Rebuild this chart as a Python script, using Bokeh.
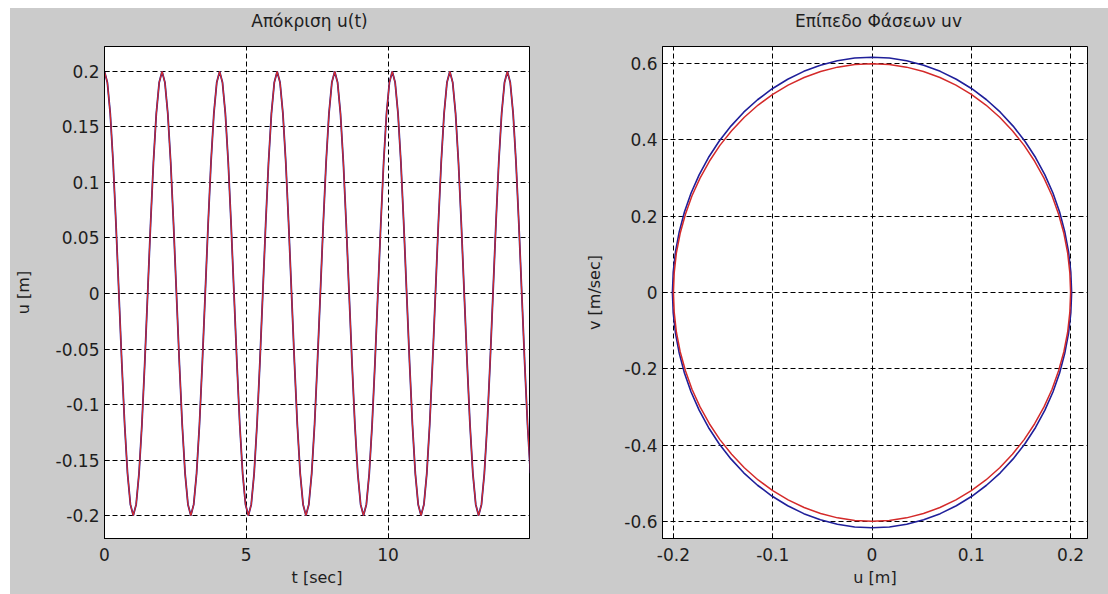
from bokeh.plotting import figure
from bokeh.layouts import row, column
from bokeh.models import FixedTicker, Range1d, CustomJSTickFormatter, Spacer
from bokeh.core.properties import value
from bokeh.embed import file_html
from bokeh.resources import INLINE

# ---------------- data ----------------
t_vals = [
    0.0, 0.1015, 0.203, 0.3045, 0.406, 0.5075, 0.609, 0.7105, 0.812, 0.9135,
    1.015, 1.1165, 1.218, 1.3195, 1.421, 1.5225, 1.624, 1.7255, 1.827, 1.9285,
    2.03, 2.1315, 2.233, 2.3345, 2.436, 2.5375, 2.639, 2.7405, 2.842, 2.9435,
    3.045, 3.1465, 3.248, 3.3495, 3.451, 3.5525, 3.654, 3.7555, 3.857, 3.9585,
    4.06, 4.1615, 4.263, 4.3645, 4.466, 4.5675, 4.669, 4.7705, 4.872, 4.9735,
    5.075, 5.1765, 5.278, 5.3795, 5.481, 5.5825, 5.684, 5.7855, 5.887, 5.9885,
    6.09, 6.1915, 6.293, 6.3945, 6.496, 6.5975, 6.699, 6.8005, 6.902, 7.0035,
    7.105, 7.2065, 7.308, 7.4095, 7.511, 7.6125, 7.714, 7.8155, 7.917, 8.0185,
    8.12, 8.2215, 8.323, 8.4245, 8.526, 8.6275, 8.729, 8.8305, 8.932, 9.0335,
    9.135, 9.2365, 9.338, 9.4395, 9.541, 9.6425, 9.744, 9.8455, 9.947, 10.0485,
    10.15, 10.2515, 10.353, 10.4545, 10.556, 10.6575, 10.759, 10.8605, 10.962, 11.0635,
    11.165, 11.2665, 11.368, 11.4695, 11.571, 11.6725, 11.774, 11.8755, 11.977, 12.0785,
    12.18, 12.2815, 12.383, 12.4845, 12.586, 12.6875, 12.789, 12.8905, 12.992, 13.0935,
    13.195, 13.2965, 13.398, 13.4995, 13.601, 13.7025, 13.804, 13.9055, 14.007, 14.1085,
    14.21, 14.3115, 14.413, 14.5145, 14.616, 14.7175, 14.819, 14.9205, 15.022,
]
u_blue = [
    0.2, 0.19, 0.162, 0.118, 0.062, 0.0, -0.062, -0.118, -0.162, -0.19,
    -0.2, -0.19, -0.162, -0.118, -0.062, 0.0, 0.062, 0.118, 0.162, 0.19,
    0.2, 0.19, 0.162, 0.118, 0.062, 0.0, -0.062, -0.118, -0.162, -0.19,
    -0.2, -0.19, -0.162, -0.118, -0.062, 0.0, 0.062, 0.118, 0.162, 0.19,
    0.2, 0.19, 0.162, 0.118, 0.062, 0.0, -0.062, -0.118, -0.162, -0.19,
    -0.2, -0.19, -0.162, -0.118, -0.062, 0.0, 0.062, 0.118, 0.162, 0.19,
    0.2, 0.19, 0.162, 0.118, 0.062, 0.0, -0.062, -0.118, -0.162, -0.19,
    -0.2, -0.19, -0.162, -0.118, -0.062, 0.0, 0.062, 0.118, 0.162, 0.19,
    0.2, 0.19, 0.162, 0.118, 0.062, 0.0, -0.062, -0.118, -0.162, -0.19,
    -0.2, -0.19, -0.162, -0.118, -0.062, 0.0, 0.062, 0.118, 0.162, 0.19,
    0.2, 0.19, 0.162, 0.118, 0.062, 0.0, -0.062, -0.118, -0.162, -0.19,
    -0.2, -0.19, -0.162, -0.118, -0.062, 0.0, 0.062, 0.118, 0.162, 0.19,
    0.2, 0.19, 0.162, 0.118, 0.062, 0.0, -0.062, -0.118, -0.162, -0.19,
    -0.2, -0.19, -0.162, -0.118, -0.062, 0.0, 0.062, 0.118, 0.162, 0.19,
    0.2, 0.19, 0.162, 0.118, 0.062, 0.0, -0.062, -0.118, -0.162,
]
u_red = [
    0.2, 0.19, 0.162, 0.118, 0.062, 0.0, -0.062, -0.118, -0.162, -0.19,
    -0.2, -0.19, -0.162, -0.118, -0.062, 0.0, 0.062, 0.118, 0.162, 0.19,
    0.2, 0.19, 0.162, 0.118, 0.062, 0.0, -0.062, -0.118, -0.162, -0.19,
    -0.2, -0.19, -0.162, -0.118, -0.062, 0.0, 0.062, 0.118, 0.162, 0.19,
    0.2, 0.19, 0.162, 0.118, 0.062, 0.0, -0.062, -0.118, -0.162, -0.19,
    -0.2, -0.19, -0.162, -0.118, -0.062, 0.0, 0.062, 0.118, 0.162, 0.19,
    0.2, 0.19, 0.162, 0.118, 0.062, 0.0, -0.062, -0.118, -0.162, -0.19,
    -0.2, -0.19, -0.162, -0.118, -0.062, 0.0, 0.062, 0.118, 0.162, 0.19,
    0.2, 0.19, 0.162, 0.118, 0.062, 0.0, -0.062, -0.118, -0.162, -0.19,
    -0.2, -0.19, -0.162, -0.118, -0.062, 0.0, 0.062, 0.118, 0.162, 0.19,
    0.2, 0.19, 0.162, 0.118, 0.062, 0.0, -0.062, -0.118, -0.162, -0.19,
    -0.2, -0.19, -0.162, -0.118, -0.062, 0.0, 0.062, 0.118, 0.162, 0.19,
    0.2, 0.19, 0.162, 0.118, 0.062, 0.0, -0.062, -0.118, -0.162, -0.19,
    -0.2, -0.19, -0.162, -0.118, -0.062, 0.0, 0.062, 0.118, 0.162, 0.19,
    0.2, 0.19, 0.162, 0.118, 0.062, 0.0, -0.062, -0.118, -0.162,
]

# phase plane (u, v), one loop each
pu_red = [
    0.2, 0.1992, 0.197, 0.1932, 0.1879, 0.1813, 0.1732, 0.1638, 0.1532, 0.1414,
    0.1286, 0.1147, 0.1, 0.0845, 0.0684, 0.0518, 0.0347, 0.0174, 0.0,
    -0.0174, -0.0347, -0.0518, -0.0684, -0.0845, -0.1, -0.1147, -0.1286, -0.1414,
    -0.1532, -0.1638, -0.1732, -0.1813, -0.1879, -0.1932, -0.197, -0.1992, -0.2,
    -0.1992, -0.197, -0.1932, -0.1879, -0.1813, -0.1732, -0.1638, -0.1532, -0.1414,
    -0.1286, -0.1147, -0.1, -0.0845, -0.0684, -0.0518, -0.0347, -0.0174, 0.0,
    0.0174, 0.0347, 0.0518, 0.0684, 0.0845, 0.1, 0.1147, 0.1286, 0.1414,
    0.1532, 0.1638, 0.1732, 0.1813, 0.1879, 0.1932, 0.197, 0.1992, 0.2,
]
pv_red = [
    0.0, 0.0523, 0.1042, 0.1553, 0.2052, 0.2536, 0.3, 0.3441, 0.3857, 0.4243,
    0.4596, 0.4915, 0.5196, 0.5438, 0.5638, 0.5796, 0.5909, 0.5977, 0.6,
    0.5977, 0.5909, 0.5796, 0.5638, 0.5438, 0.5196, 0.4915, 0.4596, 0.4243,
    0.3857, 0.3441, 0.3, 0.2536, 0.2052, 0.1553, 0.1042, 0.0523, 0.0,
    -0.0523, -0.1042, -0.1553, -0.2052, -0.2536, -0.3, -0.3441, -0.3857, -0.4243,
    -0.4596, -0.4915, -0.5196, -0.5438, -0.5638, -0.5796, -0.5909, -0.5977, -0.6,
    -0.5977, -0.5909, -0.5796, -0.5638, -0.5438, -0.5196, -0.4915, -0.4596, -0.4243,
    -0.3857, -0.3441, -0.3, -0.2536, -0.2052, -0.1553, -0.1042, -0.0523, 0.0,
]
pu_blue = [
    0.201, 0.2002, 0.1979, 0.1941, 0.1889, 0.1822, 0.1741, 0.1647, 0.154, 0.1421,
    0.1292, 0.1153, 0.1005, 0.0849, 0.0687, 0.052, 0.0349, 0.0175, 0.0,
    -0.0175, -0.0349, -0.052, -0.0687, -0.0849, -0.1005, -0.1153, -0.1292, -0.1421,
    -0.154, -0.1647, -0.1741, -0.1822, -0.1889, -0.1941, -0.1979, -0.2002, -0.201,
    -0.2002, -0.1979, -0.1941, -0.1889, -0.1822, -0.1741, -0.1647, -0.154, -0.1421,
    -0.1292, -0.1153, -0.1005, -0.0849, -0.0687, -0.052, -0.0349, -0.0175, 0.0,
    0.0175, 0.0349, 0.052, 0.0687, 0.0849, 0.1005, 0.1153, 0.1292, 0.1421,
    0.154, 0.1647, 0.1741, 0.1822, 0.1889, 0.1941, 0.1979, 0.2002, 0.201,
]
pv_blue = [
    0.0, 0.0538, 0.1071, 0.1597, 0.211, 0.2608, 0.3085, 0.3539, 0.3966, 0.4363,
    0.4727, 0.5054, 0.5343, 0.5592, 0.5798, 0.596, 0.6076, 0.6147, 0.617,
    0.6147, 0.6076, 0.596, 0.5798, 0.5592, 0.5343, 0.5054, 0.4727, 0.4363,
    0.3966, 0.3539, 0.3085, 0.2608, 0.211, 0.1597, 0.1071, 0.0538, 0.0,
    -0.0538, -0.1071, -0.1597, -0.211, -0.2608, -0.3085, -0.3539, -0.3966, -0.4363,
    -0.4727, -0.5054, -0.5343, -0.5592, -0.5798, -0.596, -0.6076, -0.6147, -0.617,
    -0.6147, -0.6076, -0.596, -0.5798, -0.5592, -0.5343, -0.5054, -0.4727, -0.4363,
    -0.3966, -0.3539, -0.3085, -0.2608, -0.211, -0.1597, -0.1071, -0.0538, 0.0,
]

left_xticks = [0, 5, 10, 15]
left_yticks = [-0.2, -0.15, -0.1, -0.05, 0, 0.05, 0.1, 0.15, 0.2]
right_xticks = [-0.2, -0.1, 0, 0.1, 0.2]
right_yticks = [-0.6, -0.4, -0.2, 0, 0.2, 0.4, 0.6]

titles = ["Απόκριση u(t)", "Επίπεδο Φάσεων uv"]

# ---------------- styling / layout ----------------
BG = "#cbcbcb"
FONT = "DejaVu Sans"
TXT = "#1e1e1e"
BLUE = "#1f1f9a"
RED = "#d42a2a"
W_TOTAL = 1098
TOP_GAP = 8
TITLE_H = 38
H = 548


def style(p, xticks, yticks, xlabel, ylabel, ylabel_standoff):
    p.outline_line_color = "black"
    p.outline_line_width = 1
    p.outline_line_alpha = 1
    p.xaxis.ticker = FixedTicker(ticks=xticks)
    p.yaxis.ticker = FixedTicker(ticks=yticks)
    p.xaxis.formatter = CustomJSTickFormatter(code="return String(tick);")
    p.yaxis.formatter = CustomJSTickFormatter(code="return String(tick);")
    for ax in p.axis:
        ax.major_tick_in = 5
        ax.major_tick_out = 0
        ax.minor_tick_line_color = None
        ax.axis_line_color = "black"
        ax.major_tick_line_color = "black"
        ax.major_label_text_font = FONT
        ax.major_label_text_font_size = "17px"
        ax.major_label_text_color = TXT
        ax.axis_label_text_font = FONT
        ax.axis_label_text_font_size = "16px"
        ax.axis_label_text_font_style = "normal"
        ax.axis_label_text_color = TXT
    p.xaxis.axis_label = xlabel
    p.yaxis.axis_label = ylabel
    p.xaxis.major_label_standoff = 9
    p.xaxis.axis_label_standoff = 4
    p.yaxis.major_label_standoff = 5
    p.yaxis.axis_label_standoff = ylabel_standoff
    p.grid.grid_line_color = "black"
    p.grid.grid_line_dash = "5 3"
    p.grid.grid_line_width = 1
    p.grid.grid_line_alpha = 1


# title strip (pixel coordinates of the strip)
pt = figure(width=W_TOTAL, height=TITLE_H, title=None,
            x_range=Range1d(0, W_TOTAL), y_range=Range1d(0, TITLE_H),
            x_axis_type=None, y_axis_type=None,
            output_backend="svg", toolbar_location=None,
            min_border=0, min_border_left=0, min_border_right=0,
            min_border_top=0, min_border_bottom=0,
            background_fill_color=BG, border_fill_color=BG)
pt.outline_line_color = None
pt.grid.visible = False
pt.text(x=[299, 868], y=[25.5, 25.5], text=titles,
        text_align="center", text_baseline="middle",
        text_font=value(FONT), text_font_size="17px", text_color=TXT)

p1 = figure(width=550, height=H, title=None,
            x_range=Range1d(0, 14.99), y_range=Range1d(-0.2207, 0.2225),
            output_backend="svg", toolbar_location=None,
            min_border_left=92, min_border_right=31,
            min_border_top=0, min_border_bottom=56,
            background_fill_color="white", border_fill_color=BG)
style(p1, left_xticks, left_yticks, "t [sec]", "u [m]", 20)
p1.line(t_vals, u_blue, line_color=BLUE, line_width=1.8)
p1.line(t_vals, u_red, line_color=RED, line_width=1.2)

p2 = figure(width=548, height=H, title=None,
            x_range=Range1d(-0.211, 0.217), y_range=Range1d(-0.645, 0.645),
            output_backend="svg", toolbar_location=None,
            min_border_left=102, min_border_right=21,
            min_border_top=0, min_border_bottom=56,
            background_fill_color="white", border_fill_color=BG)
style(p2, right_xticks, right_yticks, "u [m]", "v [m/sec]", 17)
p2.line(pu_blue, pv_blue, line_color=BLUE, line_width=1.6)
p2.line(pu_red, pv_red, line_color=RED, line_width=1.5)

plots = row(p1, p2, spacing=0, styles={"background-color": BG})
body = column(pt, plots, spacing=0, styles={"background-color": BG})
layout = column(Spacer(width=1108, height=TOP_GAP),
                row(Spacer(width=10, height=TITLE_H + H), body, spacing=0),
                spacing=0)

open("out.html", "w").write(file_html(layout, INLINE))
